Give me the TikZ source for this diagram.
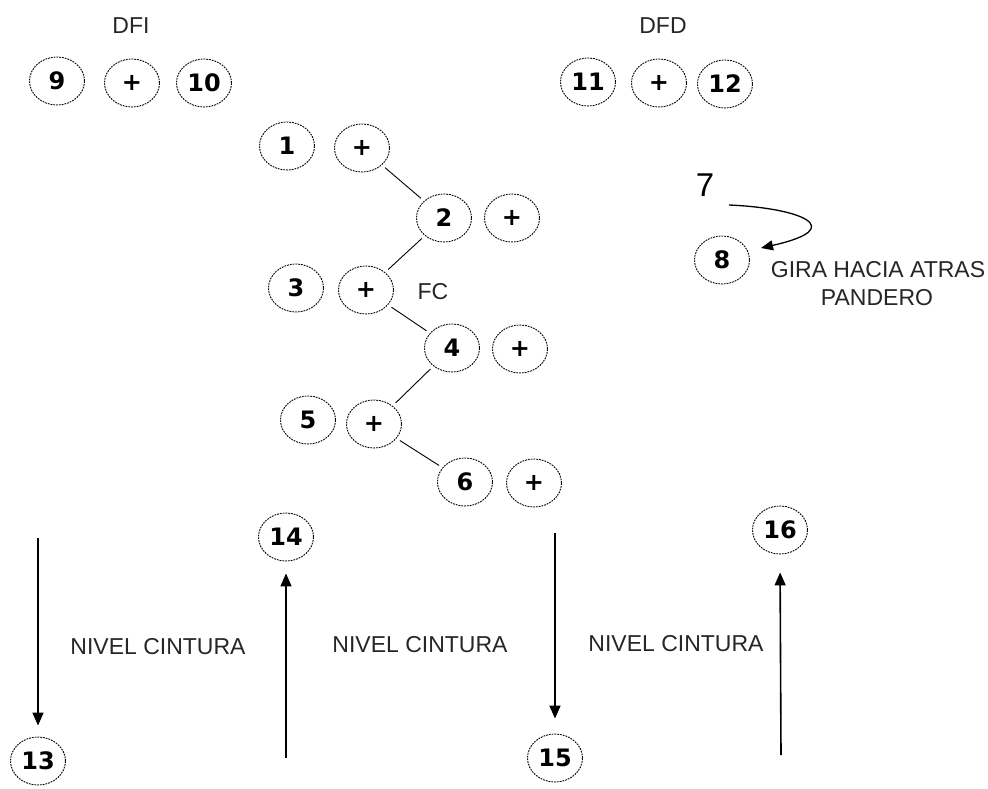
\documentclass[tikz,border=0pt]{standalone}
\usepackage{fontspec}
\setmainfont{Liberation Sans}
\newfontfamily\numfont{DejaVu Sans}
\usetikzlibrary{shapes.geometric,arrows.meta}
\tikzset{
  oval/.style={ellipse,draw,line width=0.9pt,dash pattern=on 1.8pt off 1pt,minimum width=55pt,minimum height=48pt,inner sep=0pt,font=\numfont\bfseries\fontsize{24}{24}\selectfont},
  lbl/.style={font=\fontsize{23}{23}\selectfont,text=black!85,inner sep=0pt},
  link/.style={line width=0.9pt,shorten >=4pt,shorten <=4pt},
  varrow/.style={line width=1.6pt,-{Triangle[length=13pt,width=11pt]}}
}
\begin{document}
\begin{tikzpicture}[x=1pt,y=-1pt]
\useasboundingbox[fill=white] (0,0) rectangle (988,789);
% top groups
\node[lbl] (dfi) at (131,26) {DFI};
\node[oval] (n9) at (57,81) {9};
\node[oval] (p9) at (132,83) {+};
\node[oval] (n10) at (204,83) {10};
\node[lbl] (dfd) at (663,26) {DFD};
\node[oval] (n11) at (588,82) {11};
\node[oval] (p11) at (659,83) {+};
\node[oval] (n12) at (725,84) {12};
% zigzag
\node[oval] (n1) at (287,146) {1};
\node[oval] (p1) at (362,148) {+};
\node[oval] (n2) at (444,218) {2};
\node[oval] (p2) at (512,218) {+};
\node[oval] (n3) at (296,288) {3};
\node[oval] (p3) at (366,290) {+};
\node[lbl] (fc) at (433,292) {FC};
\node[oval] (n4) at (452,348) {4};
\node[oval] (p4) at (520,349) {+};
\node[oval] (n5) at (308,420) {5};
\node[oval] (p5) at (374,424) {+};
\node[oval] (n6) at (465,482) {6};
\node[oval] (p6) at (534,483) {+};
\draw[link] (p1) -- (n2);
\draw[link] (n2) -- (p3);
\draw[link] (p3) -- (n4);
\draw[link] (n4) -- (p5);
\draw[link] (p5) -- (n6);
% 7 -> 8
\node[inner sep=0pt,font=\fontsize{33}{33}\selectfont] (seven) at (705,185) {7};
\node[oval] (n8) at (722,260) {8};
\coordinate (c7) at (729,205);
\draw[line width=1.3pt,-{Triangle[length=12pt,width=10pt]}] (c7) .. controls (800,208) and (850,228) .. (761,248);
\node[lbl] (gira) at (878,270) {GIRA HACIA ATRAS};
\node[lbl] (pand) at (877,298) {PANDERO};
% bottom
\node[oval] (n13) at (38,761) {13};
\node[oval] (n14) at (286,537) {14};
\node[oval] (n15) at (555,758) {15};
\node[oval] (n16) at (780,530) {16};
\coordinate (a13) at (38,538);
\coordinate (a14) at (286,758);
\coordinate (a15) at (555,533);
\coordinate (a16) at (781,755);
\draw[varrow,shorten >=11pt] (a13) -- (n13.north);
\draw[varrow,shorten >=12pt] (a14) -- (n14.south);
\draw[varrow,shorten >=15pt] (a15) -- (n15.north);
\draw[varrow,shorten >=18pt] (a16) -- (n16.south);
\node[lbl] (nc1) at (158,647) {NIVEL CINTURA};
\node[lbl] (nc2) at (420,645) {NIVEL CINTURA};
\node[lbl] (nc3) at (676,644) {NIVEL CINTURA};
\end{tikzpicture}
\end{document}
